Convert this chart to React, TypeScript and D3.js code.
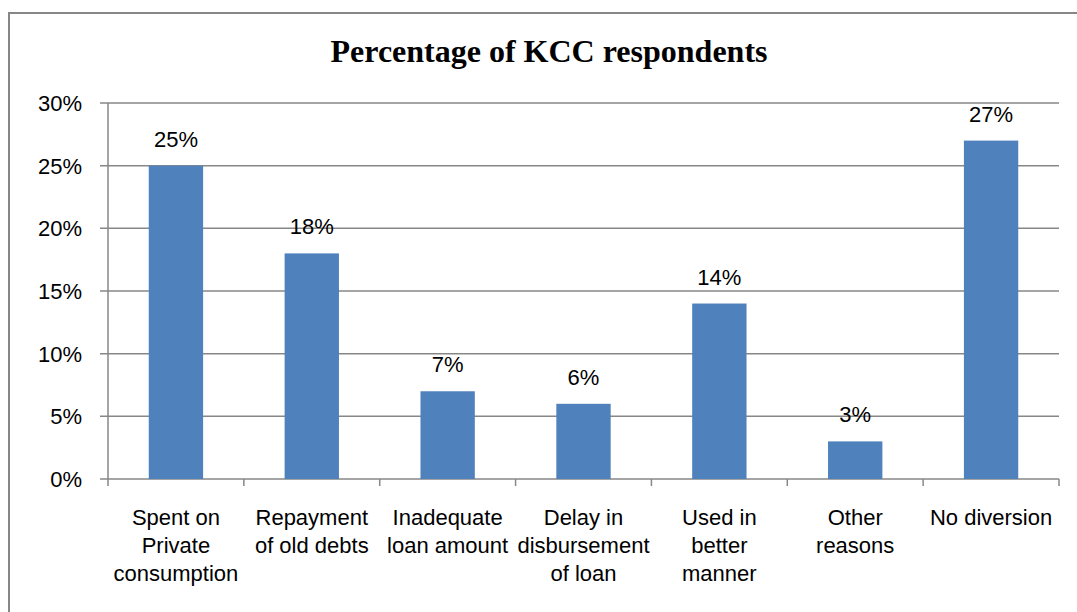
import React from "react";
import * as d3 from "d3";

const categories: string[] = [
  "Spent on\nPrivate\nconsumption",
  "Repayment\nof old debts",
  "Inadequate\nloan amount",
  "Delay in\ndisbursement\nof loan",
  "Used in\nbetter\nmanner",
  "Other\nreasons",
  "No diversion",
];
const values: number[] = [25, 18, 7, 6, 14, 3, 27];
const yTicks: number[] = [0, 5, 10, 15, 20, 25, 30];
const title = "Percentage of KCC respondents";

export default function App() {
  const W = 1077;
  const H = 612;
  const left = 108;
  const right = 1059;
  const top = 103;
  const bottom = 479;

  const x = d3
    .scaleBand<string>()
    .domain(categories)
    .range([left, right])
    .paddingInner(0.6)
    .paddingOuter(0.3);
  const step = (right - left) / categories.length;
  const y = d3.scaleLinear().domain([0, 30]).range([bottom, top]);

  const font = "'Liberation Sans', Arial, sans-serif";
  const grid = "#878787";

  return (
    <svg
      width={W}
      height={H}
      style={{ position: "absolute", left: 0, top: 0, background: "#fff" }}
    >
      <rect x={9} y={13} width={W + 20} height={H + 20} fill="#fff" stroke="#878787" strokeWidth={2} />
      <text
        x={549}
        y={62}
        textAnchor="middle"
        fontFamily="'Liberation Serif', 'Times New Roman', serif"
        fontWeight="bold"
        fontSize={32}
        fill="#000"
      >
        {title}
      </text>
      {yTicks.map((t) => (
        <g key={t}>
          <line x1={left - 8} x2={right} y1={y(t)} y2={y(t)} stroke={grid} strokeWidth={1.5} />
          <text
            x={82}
            y={y(t)}
            dy="0.36em"
            textAnchor="end"
            fontFamily={font}
            fontSize={22}
            fill="#000"
          >
            {t}%
          </text>
        </g>
      ))}
      <line x1={left} x2={left} y1={top} y2={bottom} stroke={grid} strokeWidth={1.5} />
      {d3.range(categories.length + 1).map((i) => (
        <line
          key={i}
          x1={left + i * step}
          x2={left + i * step}
          y1={bottom}
          y2={bottom + 7}
          stroke={grid}
          strokeWidth={1.5}
        />
      ))}
      {categories.map((c, i) => (
        <g key={c}>
          <rect
            x={x(c)!}
            y={y(values[i])}
            width={x.bandwidth()}
            height={bottom - y(values[i])}
            fill="#4F81BD"
          />
          <text
            x={x(c)! + x.bandwidth() / 2}
            y={y(values[i]) - 19}
            textAnchor="middle"
            fontFamily={font}
            fontSize={22}
            fill="#000"
          >
            {values[i]}%
          </text>
          {c.split("\n").map((line, j) => (
            <text
              key={j}
              x={x(c)! + x.bandwidth() / 2}
              y={525 + j * 28}
              textAnchor="middle"
              fontFamily={font}
              fontSize={22}
              fill="#000"
            >
              {line}
            </text>
          ))}
        </g>
      ))}
    </svg>
  );
}
